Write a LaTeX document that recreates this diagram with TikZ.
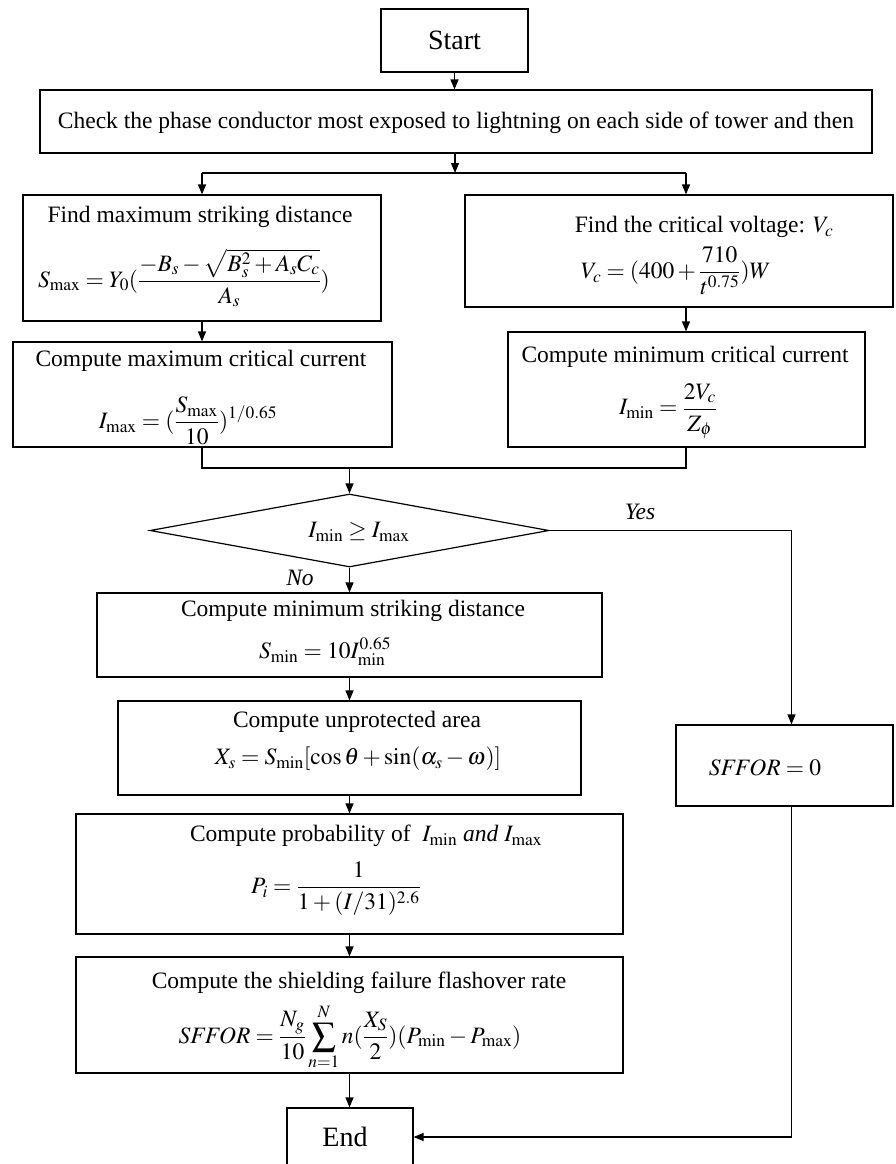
\documentclass[tikz,border=0pt]{standalone}
\usepackage{mathptmx}
\usepackage{fontspec}
\setmainfont{Liberation Serif}
\usetikzlibrary{arrows.meta,shapes.geometric}
\begin{document}
\begin{tikzpicture}[x=1pt,y=-1pt,
  every node/.style={inner sep=0pt, font=\fontsize{23.5}{27}\selectfont},
  box/.style={draw, line width=1.2pt},
  big/.style={font=\fontsize{28}{32}\selectfont},
  arr/.style={line width=1.2pt, -{Triangle[length=10pt,width=8pt]}},
  ln/.style={line width=1.2pt}]
\useasboundingbox (0,0) rectangle (895,1164);
\clip (0,0) rectangle (895,1164);
% boxes
\node[box, minimum width=147pt, minimum height=63pt, big] (start) at (454.5,40.5) {Start};
\node[box, minimum width=832pt, minimum height=63pt] (check) at (456,121.5) {};
\node (checkt) at (456,123) {Check the phase conductor most exposed to lightning on each side of tower and then};
\node[box, minimum width=358pt, minimum height=126pt] (leftA) at (202,258) {};
\node (leftAt) at (200,217) {Find maximum striking distance};
\node (leftAf) at (184,278) {$\displaystyle S_{\max} = Y_0(\frac{-B_s-\sqrt{B_s^2+A_sC_c}}{A_s})$};
\node[box, minimum width=379pt, minimum height=105pt] (leftB) at (202.5,394.5) {};
\node (leftBt) at (201,361) {Compute maximum critical current};
\node (leftBf) at (188,421) {$\displaystyle I_{\max} = (\frac{S_{\max}}{10})^{1/0.65}$};
\node[box, minimum width=428pt, minimum height=112pt] (rightA) at (679,251) {};
\node (rightAt) at (704,227) {Find the critical voltage: $V_c$};
\node (rightAf) at (676,271) {$\displaystyle V_c = (400+\frac{710}{t^{0.75}})W$};
\node[box, minimum width=357pt, minimum height=115pt] (rightB) at (686.5,389.5) {};
\node (rightBt) at (685,357) {Compute minimum critical current};
\node (rightBf) at (668,411) {$\displaystyle I_{\min}=\frac{2V_c}{Z_\phi}$};
\node[box, diamond, minimum width=399pt, minimum height=73pt] (dec) at (349.5,530.5) {};
\node (dect) at (359,532) {$I_{\min}\ge I_{\max}$};
\node (no) at (300,578) {\itshape No};
\node (yes) at (640,512) {\itshape Yes};
\node[box, minimum width=505pt, minimum height=84pt] (minS) at (349.5,635) {};
\node (minSt) at (353,611) {Compute minimum striking distance};
\node (minSf) at (325,652) {$S_{\min}=10I_{\min}^{0.65}$};
\node[box, minimum width=463pt, minimum height=94pt] (unprot) at (349.5,748) {};
\node (unprott) at (357,722) {Compute unprotected area};
\node (unprotf) at (358,759) {$X_s = S_{\min}[\cos\theta+\sin(\alpha_s-\omega)]$};
\node[box, minimum width=547pt, minimum height=120pt] (prob) at (349.5,874) {};
\node (probt) at (366,836) {Compute probability of \ $I_{\min}$ \textit{and} $I_{\max}$};
\node (probf) at (336,889) {$\displaystyle P_i=\frac{1}{1+(I/31)^{2.6}}$};
\node[box, minimum width=547pt, minimum height=116pt] (shield) at (349.5,1015) {};
\node (shieldt) at (359,983) {Compute the shielding failure flashover rate};
\node (shieldf) at (350,1037) {$\displaystyle \mathit{SFFOR}=\frac{N_g}{10}\sum_{n=1}^{N}n(\frac{X_S}{2})(P_{\min}-P_{\max})$};
\node[box, minimum width=217pt, minimum height=81pt] (sffor) at (784.5,765.5) {};
\node (sffort) at (765,768) {$\mathit{SFFOR}=0$};
\node[box, minimum width=126pt, minimum height=67pt] (endb) at (350,1141.5) {};
\node[big] (endt) at (345,1137) {End};
% coordinates
\coordinate (split) at (455,173);
\coordinate (sL) at (202,173);
\coordinate (sR) at (686,173);
\coordinate (mL) at (202,468);
\coordinate (mR) at (686,468);
\coordinate (mC) at (349.5,468);
\coordinate (yR) at (791.5,530.5);
% connectors
\draw[arr] (start.south) -- (start.south |- check.north);
\draw[arr] (split |- check.south) -- (split);
\draw[ln] (sL) -- (sR);
\draw[arr] (sL) -- (sL |- leftA.north);
\draw[arr] (sR) -- (sR |- rightA.north);
\draw[arr] (leftA.south) -- (leftA.south |- leftB.north);
\draw[arr] (sR |- rightA.south) -- (sR |- rightB.north);
\draw[ln] (mL |- leftB.south) -- (mL) -- (mR) -- (mR |- rightB.south);
\draw[arr] (mC) -- (dec.north);
\draw[arr] (dec.south) -- (minS.north);
\draw[arr] (minS.south) -- (unprot.north);
\draw[arr] (unprot.south) -- (prob.north);
\draw[arr] (prob.south) -- (shield.north);
\draw[arr] (shield.south) -- (shield.south |- endb.north);
\draw[arr] (dec.east) -- (yR) -- (yR |- sffor.north);
\draw[arr] (yR |- sffor.south) -- (yR |- endt) -- (endb.east |- endt);
\end{tikzpicture}
\end{document}
